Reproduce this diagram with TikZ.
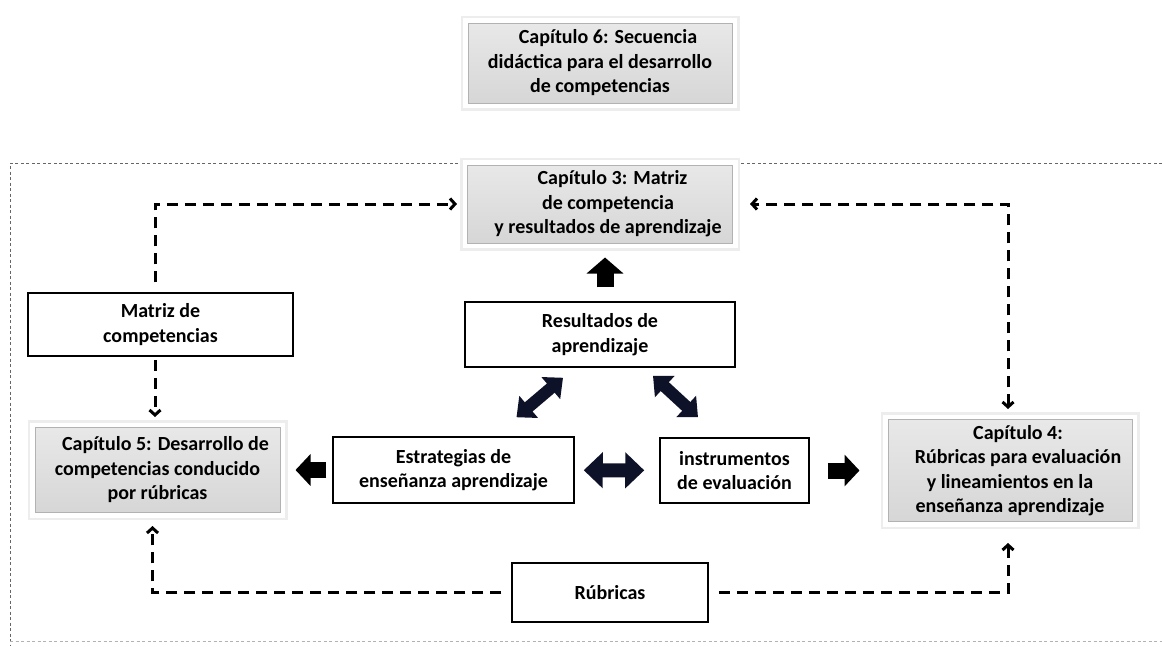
\documentclass[tikz,border=0pt]{standalone}
\usepackage{fontspec}
\setmainfont{Carlito}
\usetikzlibrary{positioning,arrows.meta}

\definecolor{capgray}{RGB}{218,218,218}
\definecolor{navyarrow}{RGB}{14,18,40}
\newcommand{\lead}{\hspace*{16pt}}

\tikzset{
  chapbox/.style={
    preaction={draw=black!7, line width=15pt},
    preaction={draw=white, line width=10pt},
    draw=black!30, line width=1pt,
    top color=black!9, bottom color=black!16,
    inner sep=0pt, align=center},
  plainbox/.style={draw=black, line width=1.5pt, fill=white,
    inner sep=0pt, align=center},
  link/.style={line width=3pt, dash pattern=on 11pt off 7pt,
    -{Straight Barb[length=5pt,width=11pt]}},
  twoway/.style={line width=3pt, dash pattern=on 11pt off 7pt,
    {Straight Barb[length=5pt,width=11pt]}-{Straight Barb[length=5pt,width=11pt]}},
  blockarrow/.style={line width=16pt, -{Triangle[width=31pt,length=15pt]}},
  dblarrow/.style={draw=navyarrow, line width=14pt,
    {Triangle[width=35pt,length=19pt]}-{Triangle[width=35pt,length=19pt]}},
  diagarrow/.style={draw=navyarrow, line width=12pt,
    {Triangle[width=28pt,length=16pt]}-{Triangle[width=28pt,length=16pt]}},
  framedash/.style={line width=0.9pt, dash pattern=on 3pt off 2.5pt, black!60}
}

\begin{document}
\begin{tikzpicture}[x=1pt,y=-1pt,on grid,
  font=\fontsize{20}{24.5}\selectfont\bfseries]

\useasboundingbox (0,0) rectangle (1162,646);

% Outer frame
\draw[framedash] (1162,163) -- (10,163) -- (10,646);
\draw[framedash, black!30] (10,641) -- (1162,641);

%%%%%%%%%%%%%%%%%%%
% Chapters

\node[chapbox, minimum width=265pt, minimum height=78pt] (cap3) at (600,204)
  {\lead\hspace*{9pt}Capítulo 3: Matriz\\ \lead de competencia\\ \lead y resultados de aprendizaje};

\node[chapbox, above=141pt of cap3,
	minimum width=264pt,
	minimum height=80pt] (cap6)
  {\lead Capítulo 6: Secuencia\\ didáctica para el desarrollo\\ de competencias};

%%%%%%%%%%%%%%%%%%%
% Middle row

\node[plainbox, below=130.5pt of cap3,
	minimum width=270pt,
	minimum height=65pt] (result) {Resultados de\\ aprendizaje};

\node[plainbox, below left=135.5pt and 146.5pt of result,
	minimum width=241pt,
	minimum height=66pt] (estrat) {Estrategias de\\ enseñanza aprendizaje};

\node[plainbox, below right=136pt and 134.5pt of result,
	minimum width=149pt,
	minimum height=65pt] (instr) {instrumentos\\ de evaluación};

\node[chapbox, left=296pt of estrat,
	minimum width=245pt,
	minimum height=85pt] (cap5)
  {\lead Capítulo 5: Desarrollo de\\ competencias conducido\\ por rúbricas};

\node[chapbox, right=275.5pt of instr,
	minimum width=244pt,
	minimum height=102pt] (cap4)
  {\lead Capítulo 4:\\ \lead Rúbricas para evaluación\\ y lineamientos en la\\ enseñanza aprendizaje};

%%%%%%%%%%%%%%%%%%%
% Side boxes

\node[plainbox, above right=145.5pt and 3pt of cap5,
	minimum width=265pt,
	minimum height=63pt] (matriz) {Matriz de\\ competencias};

\node[plainbox, below right=258pt and 10pt of result,
	minimum width=196pt,
	minimum height=59pt] (rubricas) {Rúbricas};

%%%%%%%%%%%%%%%%%%%
% Block arrows

\draw
    ([xshift=5pt]result.north) edge[blockarrow, line width=17pt,
      -{Triangle[width=36pt,length=16pt]},
      shorten <=14pt, shorten >=14pt] ([xshift=5pt]cap3.south)
    (estrat) edge[blockarrow, shorten <=6pt, shorten >=15pt] (cap5)
    (instr) edge[blockarrow, shorten <=18pt, shorten >=28pt] (cap4)
    (estrat) edge[dblarrow, shorten <=9pt, shorten >=15pt] (instr)
    ([shift={(63,-19)}]estrat.north) edge[diagarrow] ([shift={(-37,10)}]result.south)
    ([shift={(53,8)}]result.south) edge[diagarrow] ([shift={(-36.5,-20)}]instr.north);

%%%%%%%%%%%%%%%%%%%
% Dashed links

\draw[link, shorten <=10pt, shorten >=10pt]
    ([xshift=-5.5pt]matriz.north) |- (cap3.west);
\draw[link, shorten <=3pt, shorten >=10pt]
    ([xshift=-5.5pt]matriz.south) -- ([xshift=-5.5pt]matriz.south |- cap5.north);
\draw[twoway, shorten <=10pt, shorten >=17pt]
    ([xshift=-2pt]cap4.north) |- (cap3.east);
\draw[link, shorten <=10pt, shorten >=13pt]
    (rubricas.west) -| ([xshift=-5pt]cap5.south);
\draw[link, shorten <=10pt, shorten >=21pt]
    (rubricas.east) -| ([xshift=-2pt]cap4.south);

\end{tikzpicture}
\end{document}
